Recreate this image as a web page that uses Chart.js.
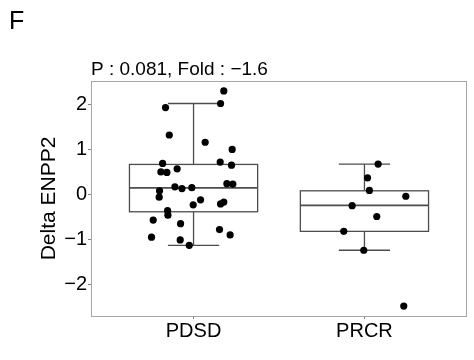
<!DOCTYPE html>
<html>
<head>
<meta charset="utf-8">
<script src="https://cdn.jsdelivr.net/npm/chart.js@4"></script>
<style>
  html, body { margin: 0; padding: 0; background: #fff; }
  #wrap { width: 474px; height: 360px; }
</style>
</head>
<body>
<div id="wrap"><canvas id="box"></canvas></div>
<script>
// groups and their x positions
const groups = ["PDSD", "PRCR"];
const groupPos = [1, 2];

// box stats: [PDSD, PRCR]
const whiskerLow = [-1.13, -1.24];
const q1 = [-0.385, -0.82];
const median = [0.148, -0.244];
const q3 = [0.667, 0.081];
const whiskerHigh = [2.02, 0.674];

// jittered points (x offset from group centre, value)
const pdsdJitter = [0.177, 0.158, -0.164, -0.142, 0.068, 0.226, -0.181, 0.156, 0.222, -0.096, -0.191, -0.156, 0.195, 0.23, -0.109, -0.068, -0.01, -0.199, -0.201, 0.041, -0.002, 0.177, 0.158, -0.152, -0.15, -0.236, -0.076, 0.152, 0.214, -0.246, -0.078, -0.025];
const pdsdValues = [2.3, 2.02, 1.93, 1.32, 1.16, 1.0, 0.69, 0.72, 0.65, 0.57, 0.5, 0.49, 0.24, 0.23, 0.17, 0.13, 0.15, 0.08, -0.06, -0.12, -0.23, -0.17, -0.21, -0.36, -0.46, -0.57, -0.65, -0.78, -0.9, -0.95, -1.01, -1.13];
const prcrJitter = [0.08, 0.018, 0.029, 0.242, -0.072, 0.072, -0.121, -0.004, 0.23];
const prcrValues = [0.674, 0.37, 0.09, -0.04, -0.25, -0.49, -0.82, -1.24, -2.48];

const yTicks = [-2, -1, 0, 1, 2];
const boxWidth = 0.75;
const capWidth = 0.3;

const font = "'Liberation Sans', Arial, sans-serif";
const boxColor = "#4d4d4d";

const points = [];
pdsdValues.forEach((v, i) => points.push({ x: groupPos[0] + pdsdJitter[i], y: v }));
prcrValues.forEach((v, i) => points.push({ x: groupPos[1] + prcrJitter[i], y: v }));

// draws boxes + whiskers under the points
const boxPlugin = {
  id: "boxes",
  beforeDatasetsDraw: (chart) => {
    const ctx = chart.ctx;
    const xs = chart.scales.x;
    const ys = chart.scales.y;
    ctx.save();
    ctx.strokeStyle = boxColor;
    ctx.lineWidth = 1.3;
    groups.forEach((g, i) => {
      const c = xs.getPixelForValue(groupPos[i]);
      const l = xs.getPixelForValue(groupPos[i] - boxWidth / 2);
      const r = xs.getPixelForValue(groupPos[i] + boxWidth / 2);
      const cl = xs.getPixelForValue(groupPos[i] - capWidth / 2);
      const cr = xs.getPixelForValue(groupPos[i] + capWidth / 2);
      const yLo = ys.getPixelForValue(whiskerLow[i]);
      const y1 = ys.getPixelForValue(q1[i]);
      const yM = ys.getPixelForValue(median[i]);
      const y3 = ys.getPixelForValue(q3[i]);
      const yHi = ys.getPixelForValue(whiskerHigh[i]);
      ctx.beginPath();
      // whiskers
      ctx.moveTo(c, y3); ctx.lineTo(c, yHi);
      ctx.moveTo(c, y1); ctx.lineTo(c, yLo);
      // caps
      ctx.moveTo(cl, yHi); ctx.lineTo(cr, yHi);
      ctx.moveTo(cl, yLo); ctx.lineTo(cr, yLo);
      ctx.stroke();
      ctx.fillStyle = "#fff";
      ctx.fillRect(l, y3, r - l, y1 - y3);
      ctx.strokeRect(l, y3, r - l, y1 - y3);
      ctx.beginPath();
      ctx.lineWidth = 1.8;
      ctx.moveTo(l, yM); ctx.lineTo(r, yM);
      ctx.stroke();
      ctx.lineWidth = 1.3;
    });
    ctx.restore();
  },
  afterDraw: (chart) => {
    const ctx = chart.ctx;
    const a = chart.chartArea;
    ctx.save();
    ctx.strokeStyle = "#a6a6a6";
    ctx.lineWidth = 1;
    ctx.strokeRect(a.left + 0.5, a.top + 0.5, a.right - a.left - 1, a.bottom - a.top);
    // panel letter and subtitle
    ctx.fillStyle = "#000";
    ctx.textBaseline = "alphabetic";
    ctx.textAlign = "left";
    ctx.font = `25px ${font}`;
    ctx.fillText("F", 9, 29);
    ctx.font = `19px ${font}`;
    ctx.fillText("P : 0.081, Fold : \u22121.6", a.left, 75);
    ctx.restore();
  },
};

new Chart(document.getElementById("box").getContext("2d"), {
  type: "scatter",
  data: {
    datasets: [
      {
        data: points,
        backgroundColor: "#000",
        borderWidth: 0,
        pointRadius: 3.6,
        pointHoverRadius: 3.6,
      },
    ],
  },
  options: {
    responsive: true,
    maintainAspectRatio: false,
    animation: false,
    layout: { padding: { left: 0, right: 7, top: 81, bottom: 0 } },
    plugins: {
      legend: { display: false },
      tooltip: { enabled: false },
    },
    scales: {
      x: {
        type: "linear",
        min: 0.4,
        max: 2.6,
        afterBuildTicks: (s) => { s.ticks = groupPos.map((v) => ({ value: v })); },
        afterFit: (s) => { s.height = 44; },
        ticks: {
          callback: (v) => groups[groupPos.indexOf(v)] || "",
          color: "#000",
          font: { family: font, size: 20 },
          padding: 0,
          maxRotation: 0,
        },
        grid: { drawOnChartArea: false, tickLength: 3, color: "#808080" },
        border: { display: false },
      },
      y: {
        min: -2.7,
        max: 2.52,
        afterBuildTicks: (s) => { s.ticks = yTicks.map((v) => ({ value: v })); },
        afterFit: (s) => { s.width = 91; },
        ticks: {
          callback: (v) => (v < 0 ? "\u2212" + Math.abs(v) : String(v)),
          color: "#000",
          font: { family: font, size: 20 },
          padding: 1,
        },
        grid: { drawOnChartArea: false, tickLength: 3, color: "#808080" },
        border: { display: false },
        title: {
          display: true,
          text: "Delta ENPP2",
          color: "#000",
          font: { family: font, size: 21 },
          padding: { top: 37, bottom: 0 },
        },
      },
    },
  },
  plugins: [boxPlugin],
});
</script>
</body>
</html>
